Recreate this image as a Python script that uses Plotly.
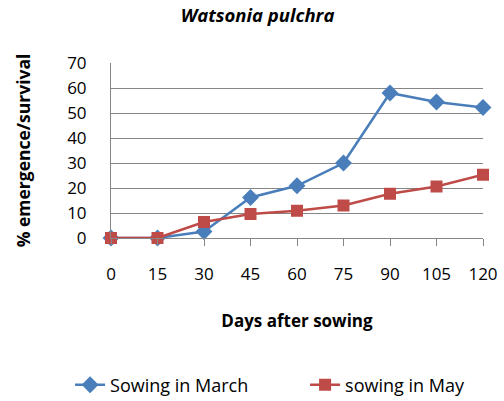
import plotly.graph_objects as go

dias = [0, 15, 30, 45, 60, 75, 90, 105, 120]
marzo = [0, 0, 2.6, 16.2, 20.9, 30, 58, 54.4, 52.2]
mayo = [0, 0, 6.4, 9.6, 10.9, 13, 17.7, 20.6, 25.3]

fuente = "Open Sans"

fig = go.Figure()
fig.add_trace(go.Scatter(x=dias, y=marzo, mode='lines+markers', name='Sowing in March',
                         line=dict(color='#4A7EBB', width=2.5),
                         marker=dict(symbol='diamond', size=13, color='#4A7EBB'),
                         cliponaxis=False))
fig.add_trace(go.Scatter(x=dias, y=mayo, mode='lines+markers', name='sowing in May',
                         line=dict(color='#BE4B48', width=2.5),
                         marker=dict(symbol='square', size=12, color='#BE4B48'),
                         cliponaxis=False))

fig.update_layout(
    width=504, height=401,
    margin=dict(l=111, r=21, t=63, b=163, autoexpand=False),
    plot_bgcolor='white', paper_bgcolor='white',
    font=dict(family=fuente, size=17, color='black'),
    title=dict(text='<b><i>Watsonia pulchra</i></b>', x=0.511, xanchor='center',
               y=0.962, yanchor='middle', font=dict(size=18.5)),
    xaxis=dict(range=[0, 120], tickvals=dias, ticks='outside', ticklen=7,
               tickcolor='#868686', showgrid=False, showline=True, linecolor='#868686',
               zeroline=False, ticklabelstandoff=14, automargin=False,
               title=dict(text='<b>Days after sowing</b>', standoff=30, font=dict(size=17))),
    yaxis=dict(range=[0, 70], dtick=10, showgrid=True, gridcolor='#868686', gridwidth=1,
               showline=True, linecolor='#868686', zeroline=False, ticks='',
               ticklabelstandoff=20, automargin=False,
               title=dict(text='<b>% emergence/survival</b>', standoff=32, font=dict(size=17.5))),
    legend=dict(orientation='h', x=-0.11, xanchor='left', y=-0.84, yanchor='middle',
                entrywidth=190, entrywidthmode='pixels', font=dict(size=18)),
    showlegend=True,
)

# quitar el margen por defecto del body
fig.write_html("out.html", config={'displayModeBar': False},
               post_script="document.body.style.margin='0';")
